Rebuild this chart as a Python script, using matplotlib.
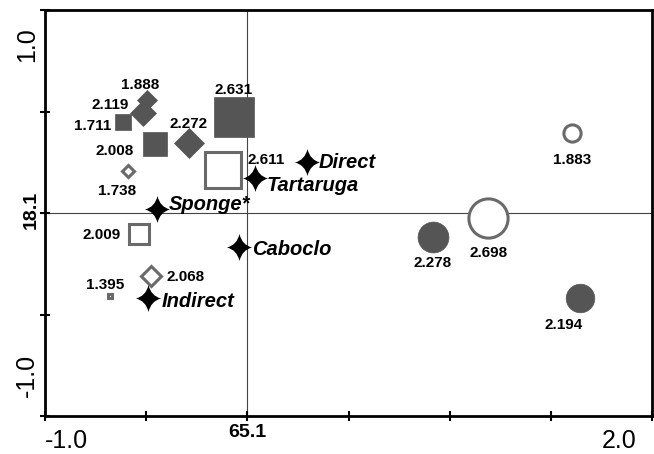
import matplotlib
matplotlib.use("Agg")
import matplotlib.pyplot as plt
from matplotlib.path import Path

plt.rcParams["font.family"] = ["Liberation Sans", "DejaVu Sans"]

# ordination scores of the samples (label = value shown next to each mark)
values = ["2.119", "1.888", "1.711", "2.008", "2.272", "2.631", "2.611", "1.738",
          "2.009", "2.068", "1.395", "1.883", "2.698", "2.278", "2.194"]
axis1 = [-0.516, -0.496, -0.614, -0.456, -0.288, -0.066, -0.120, -0.590,
         -0.535, -0.476, -0.679, 1.605, 1.190, 0.918, 1.645]
axis2 = [0.493, 0.557, 0.448, 0.340, 0.345, 0.473, 0.212, 0.207,
         -0.103, -0.310, -0.409, 0.394, -0.025, -0.118, -0.419]
kinds = ["diamond_fill", "diamond_fill", "square_fill", "square_fill", "diamond_fill",
         "square_fill", "square_open", "diamond_open", "square_open", "diamond_open",
         "square_open", "circle_open", "circle_open", "circle_fill", "circle_fill"]

# environmental / site vectors
site_names = ["Direct", "Tartaruga", "Sponge*", "Caboclo", "Indirect"]
site_axis1 = [0.295, 0.038, -0.446, -0.041, -0.491]
site_axis2 = [0.251, 0.172, 0.020, -0.167, -0.419]

# label placement (pixels from the mark)
label_offsets = [(-33, 8), (-7, 15), (-30, -4), (-40, -7), (0, 19), (0, 27), (43, 10),
                 (-11, -20), (-37, -1), (35, -1), (-5, 11), (0, -27), (0, -35),
                 (-1, -26), (-17, -27)]
site_offsets = [(12, 0), (12, -7), (12, 4), (13, -3), (14, -3)]

GRAY = "#555555"
EDGE = "#6a6a6a"
styles = {
    "square_fill": ("s", True), "square_open": ("s", False),
    "diamond_fill": ("D", True), "diamond_open": ("D", False),
    "circle_fill": ("o", True), "circle_open": ("o", False),
}

# four-pointed star with concave sides
c = 0.2
star = Path([(0, 1.08), (c, c), (1, 0), (c, -c), (0, -1.08), (-c, -c),
             (-1, 0), (-c, c), (0, 1.08), (0, 1.08)],
            [Path.MOVETO] + [Path.CURVE3] * 8 + [Path.CLOSEPOLY])

fig = plt.figure(figsize=(6.54, 4.54), dpi=100)
ax = fig.add_axes([45 / 654, 1 - 416 / 454, 607 / 654, 406 / 454])
ax.set_xlim(-1.0, 2.0)
ax.set_ylim(-1.0, 1.0)

ax.axvline(0, color="#444444", lw=0.8, zorder=1)
ax.axhline(0, color="#444444", lw=0.8, zorder=1)

px2pt = 72 / fig.dpi
for v, x, y, k, (dx, dy) in zip(values, axis1, axis2, kinds, label_offsets):
    marker, filled = styles[k]
    extent = 27 * (float(v) - 1.135)  # mark size grows with the value
    if marker == "D":
        extent /= 2 ** 0.5
    if filled:
        ax.plot(x, y, marker=marker, ms=extent * px2pt, mfc=GRAY, mec=GRAY,
                mew=0.5, zorder=3)
    else:
        ax.plot(x, y, marker=marker, ms=(extent - 3) * px2pt, mfc="white", mec=EDGE,
                mew=2.2, zorder=3)
    ax.annotate(v, (x, y), xytext=(dx, dy), textcoords="offset pixels",
                ha="center", va="center", fontsize=11, fontweight="bold", zorder=5)

for name, x, y, (dx, dy) in zip(site_names, site_axis1, site_axis2, site_offsets):
    ax.plot(x, y, marker=star, ms=27 * px2pt, color="black", mew=0, zorder=4)
    ax.annotate(name, (x, y), xytext=(dx, dy), textcoords="offset pixels",
                ha="left", va="center", fontsize=14.5, fontweight="bold",
                fontstyle="italic", zorder=5)

for s in ax.spines.values():
    s.set_linewidth(2)
ax.set_xticks([-1.0, -0.5, 0.0, 0.5, 1.0, 1.5, 2.0])
ax.set_yticks([-1.0, -0.5, 0.0, 0.5, 1.0])
ax.set_xticklabels([])
ax.set_yticklabels([])
ax.tick_params(direction="inout", length=7, width=1.5)

ax.text(-1.0, -1.123, "-1.0", ha="left", va="center", fontsize=18, clip_on=False)
ax.text(1.925, -1.123, "2.0", ha="right", va="center", fontsize=18, clip_on=False)
ax.text(0.0, -1.08, "65.1", ha="center", va="center", fontsize=14,
        fontweight="bold", clip_on=False)
ax.text(-1.089, 0.828, "1.0", ha="center", va="center", rotation=90,
        fontsize=18, clip_on=False)
ax.text(-1.069, 0.015, "18.1", ha="center", va="center", rotation=90,
        fontsize=14, fontweight="bold", clip_on=False)
ax.text(-1.089, -0.80, "-1.0", ha="center", va="center", rotation=90,
        fontsize=18, clip_on=False)

fig.savefig("out.png", dpi=100)
